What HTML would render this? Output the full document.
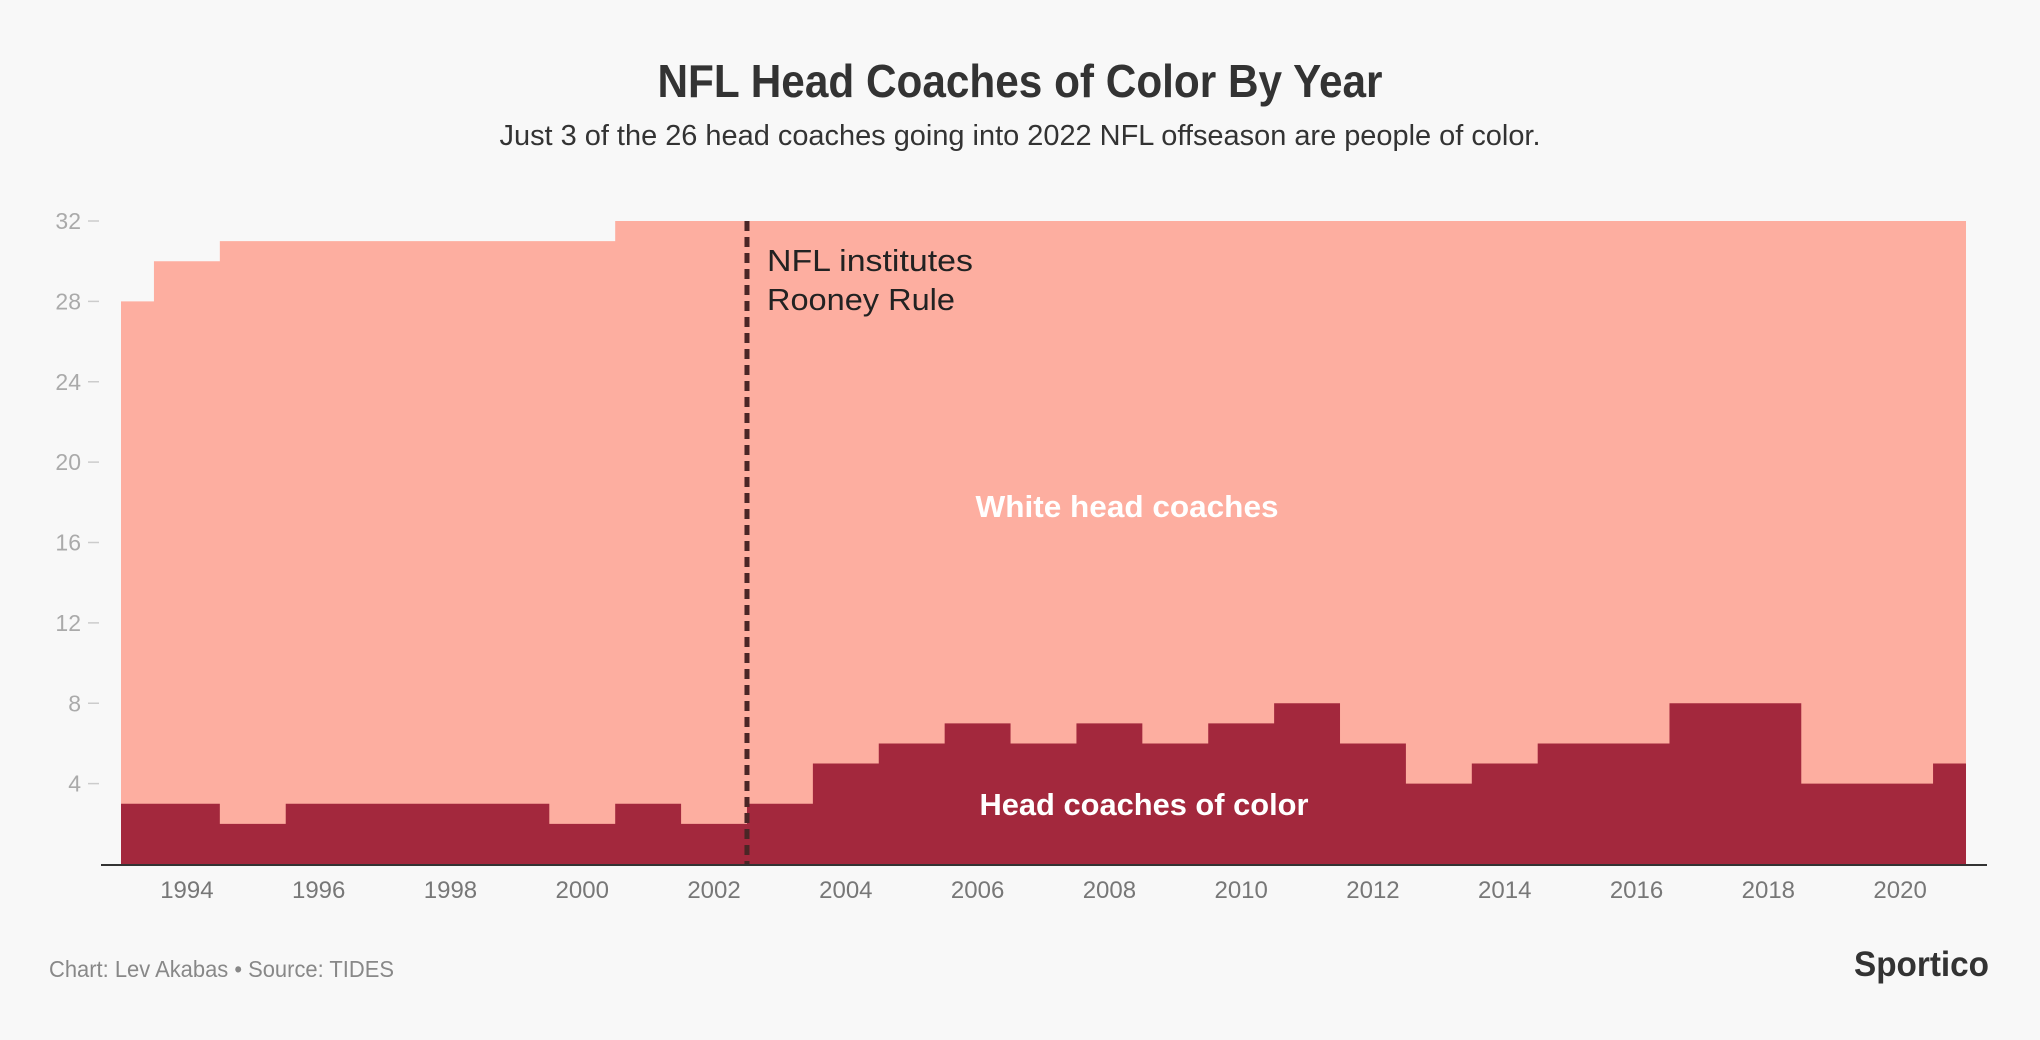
<!DOCTYPE html>
<html><head><meta charset="utf-8"><style>
html,body{margin:0;padding:0;background:#f8f8f8;}
svg{display:block;font-family:"Liberation Sans",sans-serif;}
</style></head><body>
<svg id="chart" width="2040" height="1040" viewBox="0 0 2040 1040">
<rect width="2040" height="1040" fill="#f8f8f8"/>
<text x="1020" y="97" text-anchor="middle" font-size="46" font-weight="bold" fill="#333" textLength="725" lengthAdjust="spacingAndGlyphs">NFL Head Coaches of Color By Year</text>
<text x="1020" y="145" text-anchor="middle" font-size="29" fill="#333" textLength="1041" lengthAdjust="spacingAndGlyphs">Just 3 of the 26 head coaches going into 2022 NFL offseason are people of color.</text>
<g id="plot"></g>
<text x="49" y="977" font-size="23" fill="#888" textLength="345" lengthAdjust="spacingAndGlyphs">Chart: Lev Akabas • Source: TIDES</text>
<text x="1989" y="976" text-anchor="end" font-size="35" font-weight="bold" fill="#333" textLength="135" lengthAdjust="spacingAndGlyphs">Sportico</text>
</svg>
<script>
const years = [1993,1994,1995,1996,1997,1998,1999,2000,2001,2002,2003,2004,2005,2006,2007,2008,2009,2010,2011,2012,2013,2014,2015,2016,2017,2018,2019,2020,2021];
const totalCoaches = [28,30,31,31,31,31,31,31,32,32,32,32,32,32,32,32,32,32,32,32,32,32,32,32,32,32,32,32,32];
const coachesOfColor = [3,3,2,3,3,3,3,2,3,2,3,5,6,7,6,7,6,7,8,6,4,5,6,6,8,8,4,4,5];
const yTicks = [4,8,12,16,20,24,28,32];
const xTicks = [1994,1996,1998,2000,2002,2004,2006,2008,2010,2012,2014,2016,2018,2020];
const rooneyYear = 2002.5;

const NS = "http://www.w3.org/2000/svg";
const g = document.getElementById('plot');
const X0 = 121, X1 = 1966, Y0 = 864, YTOP = 221;
const xMin = years[0], xMax = years[years.length-1];
function xs(v){ return X0 + (v - xMin) / (xMax - xMin) * (X1 - X0); }
function ys(v){ return Y0 - v / 32 * (Y0 - YTOP); }
function mk(tag, attrs){ const e = document.createElementNS(NS, tag); for (const k in attrs) e.setAttribute(k, attrs[k]); g.appendChild(e); return e; }

function stepPath(vals){
  let d = '';
  for (let i = 0; i < years.length; i++) {
    const a = xs(Math.max(xMin, years[i] - 0.5)), b = xs(Math.min(xMax, years[i] + 0.5));
    d += (i === 0 ? 'M' + a + ',' + Y0 + 'L' + a + ',' + ys(vals[i]) : 'L' + a + ',' + ys(vals[i])) + 'L' + b + ',' + ys(vals[i]);
  }
  d += 'L' + xs(xMax) + ',' + Y0 + 'Z';
  return d;
}
const white = mk('path', {d: stepPath(totalCoaches), fill: '#fdaea0'});


const color = mk('path', {d: stepPath(coachesOfColor), fill: '#a3283d'});



yTicks.forEach(t => {
  const ln = mk('line', {x1: 88, x2: 99, y1: ys(t), y2: ys(t), stroke: '#ccc', 'stroke-width': 1.5});
  
  
  const tx = mk('text', {x: 81, y: ys(t) + 8, 'text-anchor': 'end', 'font-size': 23, fill: '#aaa'});
  tx.textContent = t;
  
  
});
xTicks.forEach(t => {
  const tx = mk('text', {x: xs(t), y: 898, 'text-anchor': 'middle', 'font-size': 24, fill: '#777'});
  tx.textContent = t;
  
  
});
const axis = mk('line', {x1: 101, x2: 1987, y1: Y0 + 1, y2: Y0 + 1, stroke: '#333', 'stroke-width': 2});



const rl = mk('line', {x1: xs(rooneyYear), x2: xs(rooneyYear), y1: ys(32), y2: Y0, stroke: '#4a2626', 'stroke-width': 5, 'stroke-dasharray': '10,6'});


const a1 = mk('text', {x: xs(rooneyYear) + 20, y: 271, 'font-size': 31, fill: '#222', textLength: 206, lengthAdjust: 'spacingAndGlyphs'});
a1.textContent = 'NFL institutes';


const a2 = mk('text', {x: xs(rooneyYear) + 20, y: 310, 'font-size': 31, fill: '#222', textLength: 188, lengthAdjust: 'spacingAndGlyphs'});
a2.textContent = 'Rooney Rule';



const l1 = mk('text', {x: 1127, y: 517, 'text-anchor': 'middle', 'font-size': 31, 'font-weight': 'bold', fill: '#fff', textLength: 303, lengthAdjust: 'spacingAndGlyphs'});
l1.textContent = 'White head coaches';


const l2 = mk('text', {x: 1144, y: 815, 'text-anchor': 'middle', 'font-size': 31, 'font-weight': 'bold', fill: '#fff', textLength: 329, lengthAdjust: 'spacingAndGlyphs'});
l2.textContent = 'Head coaches of color';


</script>
</body></html>
